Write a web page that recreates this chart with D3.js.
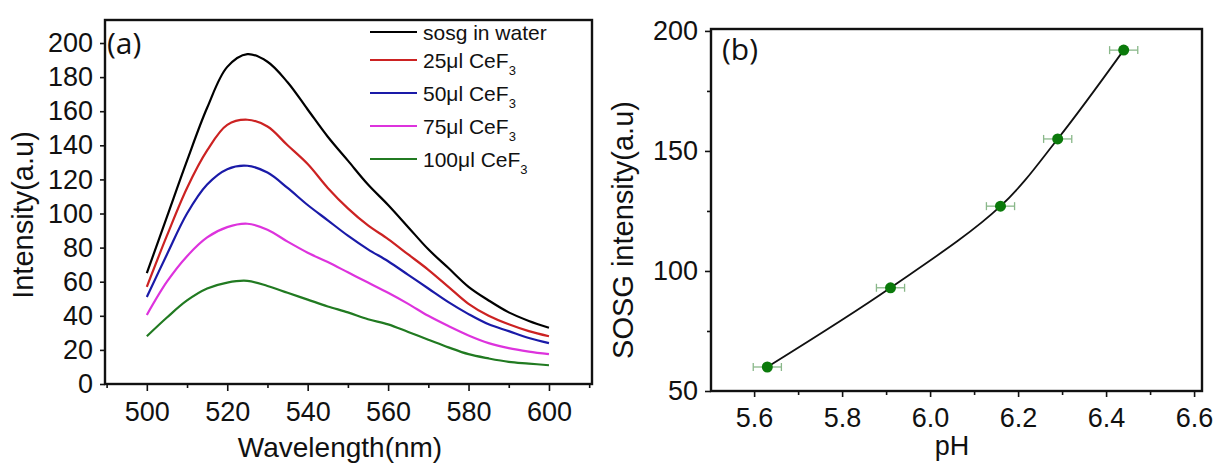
<!DOCTYPE html>
<html><head><meta charset="utf-8">
<script src="https://cdn.jsdelivr.net/npm/d3@7"></script>
<style>body{margin:0;background:#fff}svg{display:block}text{font-family:"Liberation Sans",Arial,sans-serif;fill:#111}</style>
</head><body><svg id="c" width="1215" height="464"></svg>
<script>
// ---- Panel (a) data ----
const wavelengths = [500,505,510,515,520,525,530,535,540,545,550,555,560,565,570,575,580,585,590,595,600];
const sosgWater = [65,98,131,162,186,193.5,189,177,161,145,131,117,105,92,79,68,57,49,42,37,33];
const ceF25  = [57,87,115,137,152,155,151,140,129,115,103,93,85,76,67,57,47,40,35,31,28];
const ceF50  = [51,76,100,117,126,128,124,115,105,96,87,79,72,64,56,48,41,35,31,27,24];
const ceF75  = [40.5,60,75,86,92,94,90.5,83.5,77,71.5,65.5,59.5,53.5,47,40,34,28.5,24,21,19,17.5];
const ceF100 = [28,39,49,56,59.5,60.5,57.5,53.5,49.5,45.5,42,38,35,30.5,26,21.5,17.5,15,13,12,11];
const seriesNames = ["sosg in water","25μl CeF","50μl CeF","75μl CeF","100μl CeF"];
const seriesColors = ["#000000","#cc2222","#1a1aa8","#dd33dd","#217a21"];
const aXTicks = [500,520,540,560,580,600];
const aYTicks = [0,20,40,60,80,100,120,140,160,180,200];

// ---- Panel (b) data ----
const phValues = [5.63,5.91,6.16,6.29,6.44];
const sosgIntensity = [60,93,127,155,192];
const phErr = [0.032,0.032,0.032,0.032,0.032];
const bXTicks = [5.6,5.8,6.0,6.2,6.4,6.6];
const bYTicks = [50,100,150,200];

const svg = d3.select("#c");

// ===== Panel (a) =====
const A = {l:105, r:592, t:20, b:384};
const ax = d3.scaleLinear().domain([489.6,610.7]).range([A.l,A.r]);
const ay = d3.scaleLinear().domain([0,213.5]).range([A.b,A.t]);
const ga = svg.append("g");
const allA = [sosgWater,ceF25,ceF50,ceF75,ceF100];
const line = d3.line().x((d,i)=>ax(wavelengths[i])).y(d=>ay(d)).curve(d3.curveCatmullRom.alpha(0.5));
allA.forEach((s,k)=>{
  ga.append("path").datum(s).attr("d",line).attr("fill","none")
    .attr("stroke",seriesColors[k]).attr("stroke-width",2.2);
});
ga.append("rect").attr("x",A.l).attr("y",A.t).attr("width",A.r-A.l).attr("height",A.b-A.t)
  .attr("fill","none").attr("stroke","#111").attr("stroke-width",2.4);
ga.append("g").attr("transform",`translate(0,${A.b})`)
  .call(d3.axisBottom(ax).tickValues(aXTicks).tickSize(7).tickPadding(11).tickFormat(d3.format("d")));
ga.append("g").attr("transform",`translate(0,${A.b})`)
  .call(d3.axisBottom(ax).tickValues([490,510,530,550,570,590,610]).tickSize(4).tickFormat(""));
ga.append("g").attr("transform",`translate(${A.l},0)`)
  .call(d3.axisLeft(ay).tickValues(aYTicks).tickSize(5).tickPadding(7).tickFormat(d3.format("d")));
ga.selectAll(".domain").remove();
ga.selectAll(".tick line").attr("stroke","#111").attr("stroke-width",1.6);
ga.selectAll(".tick text").style("font-size","27px").attr("fill","#222");
ga.append("text").attr("x",107).attr("y",54).style("font-family","'Open Sans',sans-serif").style("font-size","30px").text("(a)");
ga.append("text").attr("transform","translate(33,215) rotate(-90)").attr("text-anchor","middle")
  .style("font-size","29px").attr("fill","#222").text("Intensity(a.u)");
ga.append("text").attr("x",340).attr("y",457).attr("text-anchor","middle")
  .style("font-size","28px").attr("fill","#222").text("Wavelength(nm)");
// legend
seriesNames.forEach((n,i)=>{
  const y = i===0 ? 32 : 60 + (i-1)*33;
  ga.append("line").attr("x1",370).attr("x2",417).attr("y1",y).attr("y2",y)
    .attr("stroke",seriesColors[i]).attr("stroke-width",2.2);
  const t = ga.append("text").attr("x",423).attr("y",y+8).style("font-size","21px").attr("fill","#222");
  t.append("tspan").text(n);
  if(i>0) t.append("tspan").attr("dy",7).style("font-size","13px").text("3");
});

// ===== Panel (b) =====
const B = {l:711, r:1202, t:29, b:391};
const bx = d3.scaleLinear().domain([5.502,6.618]).range([B.l,B.r]);
const by = d3.scaleLinear().domain([50,200.8]).range([B.b,B.t]);
const gb = svg.append("g");
const pts = phValues.map((p,i)=>({x:p,y:sosgIntensity[i],e:phErr[i]}));
gb.append("path").datum(pts).attr("d",d3.line().x(d=>bx(d.x)).y(d=>by(d.y)).curve(d3.curveCatmullRom))
  .attr("fill","none").attr("stroke","#111").attr("stroke-width",1.8);
const eb = gb.selectAll(".eb").data(pts).enter().append("g");
eb.append("line").attr("x1",d=>bx(d.x-d.e)).attr("x2",d=>bx(d.x+d.e)).attr("y1",d=>by(d.y)).attr("y2",d=>by(d.y))
  .attr("stroke","#8ab88a").attr("stroke-width",1.3);
eb.append("line").attr("x1",d=>bx(d.x-d.e)).attr("x2",d=>bx(d.x-d.e)).attr("y1",d=>by(d.y)-4).attr("y2",d=>by(d.y)+4)
  .attr("stroke","#8ab88a").attr("stroke-width",1.3);
eb.append("line").attr("x1",d=>bx(d.x+d.e)).attr("x2",d=>bx(d.x+d.e)).attr("y1",d=>by(d.y)-4).attr("y2",d=>by(d.y)+4)
  .attr("stroke","#8ab88a").attr("stroke-width",1.3);
eb.append("circle").attr("cx",d=>bx(d.x)).attr("cy",d=>by(d.y)).attr("r",5.5).attr("fill","#0b7a0b");
gb.append("rect").attr("x",B.l).attr("y",B.t).attr("width",B.r-B.l).attr("height",B.b-B.t)
  .attr("fill","none").attr("stroke","#111").attr("stroke-width",2.4);
gb.append("g").attr("transform",`translate(0,${B.b})`)
  .call(d3.axisBottom(bx).tickValues(bXTicks).tickSize(6).tickPadding(11).tickFormat(d3.format(".1f")));
gb.append("g").attr("transform",`translate(0,${B.b})`)
  .call(d3.axisBottom(bx).tickValues([5.7,5.9,6.1,6.3,6.5]).tickSize(4).tickFormat(""));
gb.append("g").attr("transform",`translate(${B.l},0)`)
  .call(d3.axisLeft(by).tickValues(bYTicks).tickSize(6).tickPadding(7).tickFormat(d3.format("d")));
gb.append("g").attr("transform",`translate(${B.l},0)`)
  .call(d3.axisLeft(by).tickValues([75,125,175]).tickSize(4).tickFormat(""));
gb.selectAll(".domain").remove();
gb.selectAll(".tick line").attr("stroke","#111").attr("stroke-width",1.6);
gb.selectAll(".tick text").style("font-size","27px").attr("fill","#222");
gb.append("text").attr("x",722).attr("y",60).style("font-family","'Open Sans',sans-serif").style("font-size","30px").text("(b)");
gb.append("text").attr("transform","translate(633,230) rotate(-90)").attr("text-anchor","middle")
  .style("font-size","29px").attr("fill","#222").text("SOSG intensity(a.u)");
gb.append("text").attr("x",952).attr("y",455).attr("text-anchor","middle")
  .style("font-size","27px").attr("fill","#222").text("pH");
</script></body></html>
